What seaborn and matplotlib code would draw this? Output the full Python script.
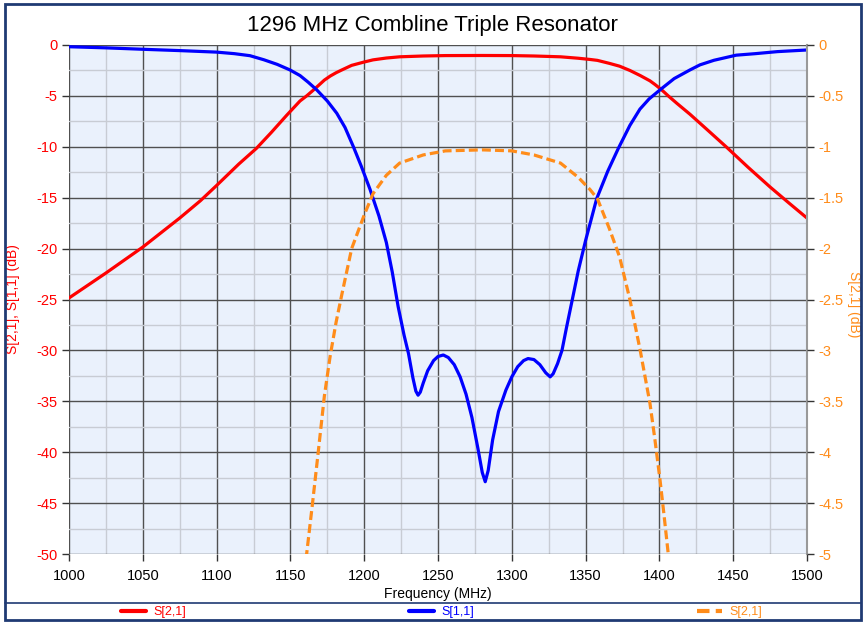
import matplotlib.pyplot as plt
from matplotlib.ticker import MultipleLocator
from matplotlib.patches import Rectangle
from matplotlib.lines import Line2D
import seaborn as sns

# values (frequency in MHz, levels in dB)
s21_freq = [1000, 1025, 1050, 1075, 1089, 1100, 1115, 1127, 1137, 1147.5, 1156.5, 1161,
            1165, 1169, 1173, 1177, 1181, 1185, 1191.5, 1200, 1206, 1215, 1224, 1240,
            1255, 1280, 1300, 1315, 1333, 1345, 1353, 1358, 1366, 1373, 1380, 1387,
            1393.6, 1397, 1400.4, 1403, 1406, 1412, 1420.7, 1433, 1445.6, 1460, 1475,
            1488, 1500]
s21_db = [-24.85, -22.4, -19.85, -17.0, -15.3, -13.8, -11.7, -10.15, -8.6, -6.9, -5.5, -5.0,
          -4.5, -3.98, -3.45, -3.05, -2.72, -2.44, -2.0, -1.67, -1.46, -1.28, -1.16, -1.08,
          -1.04, -1.03, -1.04, -1.08, -1.16, -1.3, -1.42, -1.51, -1.8, -2.08, -2.5, -3.0,
          -3.52, -3.88, -4.27, -4.6, -5.0, -5.75, -6.8, -8.4, -10.05, -12.0, -13.95,
          -15.55, -17.0]

s11_freq = [1000, 1025, 1050, 1075, 1100, 1112, 1122.6, 1132, 1141, 1149.7, 1156.5, 1162,
            1167.8, 1175, 1181.4, 1187, 1192.7, 1198, 1204, 1210, 1215, 1219, 1223, 1227,
            1230, 1233, 1235, 1236.5, 1238, 1240, 1243, 1247, 1250, 1253.6, 1257, 1261,
            1265, 1269, 1273, 1277, 1280, 1282, 1284, 1287, 1291, 1296, 1300, 1304, 1308,
            1311, 1315, 1319, 1323, 1326, 1328, 1331, 1334, 1337, 1341, 1345, 1350, 1357.5,
            1365, 1372.2, 1380, 1386.8, 1393, 1400.9, 1410, 1420.7, 1427.5, 1437, 1452,
            1465, 1480, 1500]
s11_db = [-0.17, -0.28, -0.42, -0.55, -0.7, -0.85, -1.05, -1.45, -1.9, -2.45, -3.0, -3.65,
          -4.4, -5.5, -6.7, -8.1, -10.0, -11.9, -14.2, -16.8, -19.4, -22.3, -25.7, -28.5,
          -30.3, -32.7, -34.0, -34.4, -34.1, -33.2, -32.0, -31.0, -30.6, -30.45, -30.7, -31.4,
          -32.6, -34.3, -36.6, -39.6, -42.0, -42.9, -41.8, -38.8, -36.0, -33.9, -32.6, -31.6, -31.0,
          -30.8, -30.9, -31.4, -32.2, -32.6, -32.3, -31.3, -30.0, -27.8, -25.0, -22.2, -19.2, -15.1,
          -12.4, -10.15, -7.9, -6.3, -5.3, -4.35, -3.3, -2.45, -1.95, -1.5, -1.0,
          -0.85, -0.65, -0.49]

title = '1296 MHz Combline Triple Resonator'
red = '#FF0000'
blue = '#0000FF'
orange = '#FF8C1A'

sns.set_theme(style='white')
plt.rcParams['font.family'] = ['Liberation Sans', 'DejaVu Sans']
plt.rcParams['axes.unicode_minus'] = False

fig = plt.figure(figsize=(8.64, 6.23), dpi=100)
ax = fig.add_axes([69 / 864, 1 - 554 / 623, 738 / 864, 509 / 623])
ax.set_facecolor('#EAF1FC')

sns.lineplot(x=s21_freq, y=s21_db, ax=ax, color=red, lw=2.3, sort=False)
sns.lineplot(x=s11_freq, y=s11_db, ax=ax, color=blue, lw=2.3, sort=False)

ax.set_xlim(1000, 1500)
ax.set_ylim(-50, 0)
ax.xaxis.set_major_locator(MultipleLocator(50))
ax.xaxis.set_minor_locator(MultipleLocator(25))
ax.yaxis.set_major_locator(MultipleLocator(5))
ax.yaxis.set_minor_locator(MultipleLocator(2.5))
ax.grid(which='major', color='#505050', lw=1.0, zorder=0)
ax.grid(which='minor', color='#c8ccd4', lw=1.0, zorder=0)
ax.set_axisbelow(True)
ax.tick_params(axis='y', which='major', colors='#333333', labelcolor=red,
               length=5, width=1, left=True, labelsize=10.5)
ax.tick_params(axis='x', which='major', colors='#333333', labelcolor='black',
               length=5, width=1, bottom=True, labelsize=10.5, pad=6)
ax.tick_params(which='minor', length=0)
for side in ['top', 'left', 'bottom']:
    ax.spines[side].set_visible(False)
ax.spines['right'].set_color('#999999')
ax.spines['right'].set_linewidth(1.5)
ax.set_xlabel('Frequency (MHz)', fontsize=10, color='black', labelpad=3)
ax.set_ylabel('S[2,1], S[1,1] (dB)', fontsize=10, color=red)
ax.yaxis.set_label_coords((20 - 69) / 738, 0.5)

ax2 = ax.twinx()
sns.lineplot(x=s21_freq, y=s21_db, ax=ax2, color=orange, lw=2.3, sort=False)
ax2.lines[0].set_dashes([2.8, 1.3])
ax2.set_ylim(-5, 0)
ax2.yaxis.set_major_locator(MultipleLocator(0.5))
ax2.tick_params(axis='y', colors='#333333', labelcolor=orange, length=5, width=1,
                right=True, labelsize=10.5)
ax2.set_yticklabels(['%g' % v for v in ax2.get_yticks()])
for side in ['top', 'left', 'bottom', 'right']:
    ax2.spines[side].set_visible(False)
ax2.set_ylabel('S[2,1] (dB)', fontsize=10, color=orange, rotation=270, va='center')
ax2.yaxis.set_label_coords((854 - 69) / 738, 0.49)

fig.text(0.5, 1 - 25 / 623, title, ha='center', va='center', fontsize=16, color='black')

# frame and legend strip
fig.patches.append(Rectangle((5 / 864, 3 / 623), 856 / 864, 616 / 623, transform=fig.transFigure,
                             fill=False, edgecolor='#1F3A73', lw=2))
fig.lines.append(Line2D([5 / 864, 861 / 864], [1 - 603 / 623] * 2, transform=fig.transFigure,
                        color='#1F3A73', lw=1.2))

handles = [Line2D([], [], color=red, lw=3),
           Line2D([], [], color=blue, lw=3),
           Line2D([], [], color=orange, lw=3, dashes=[3, 1.5])]
leg = fig.legend(handles, ['S[2,1]', 'S[1,1]', 'S[2,1]'], ncol=3, loc='center',
                 bbox_to_anchor=(0.511, 1 - 612 / 623), frameon=False, fontsize=9,
                 handlelength=2.0, handletextpad=0.6, columnspacing=17.8)
for txt, c in zip(leg.get_texts(), [red, blue, orange]):
    txt.set_color(c)

fig.savefig('out.png', dpi=100)
